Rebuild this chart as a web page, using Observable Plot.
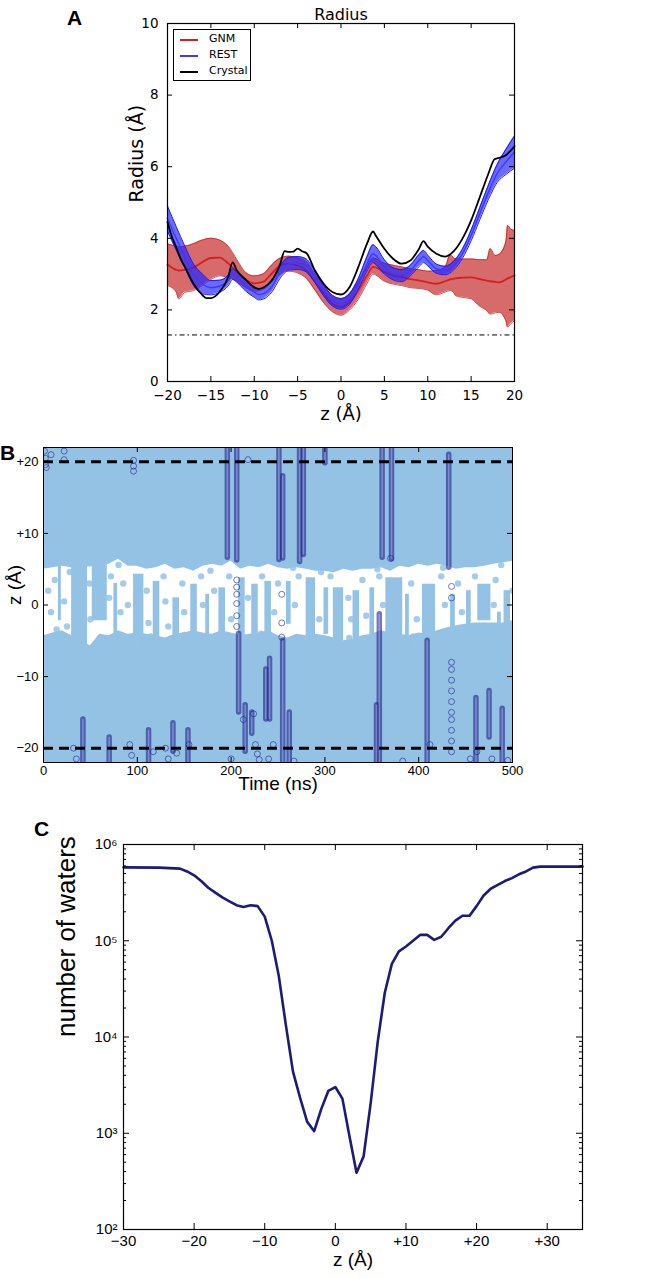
<!DOCTYPE html>
<html><head><meta charset="utf-8">
<script src="https://cdn.jsdelivr.net/npm/d3@7"></script>
<script src="https://cdn.jsdelivr.net/npm/@observablehq/plot@0.6"></script>
<style>
body{margin:0;background:#fff;}
#fig{position:relative;width:660px;height:1278px;overflow:hidden;background:#fff;}
.panel{position:absolute;left:0;}
.lab{position:absolute;font-weight:bold;font-size:21px;font-family:"Liberation Sans",Arial,sans-serif;line-height:1;}
#legA{position:absolute;left:173px;top:29px;width:76px;height:50px;border:1.3px solid #000;background:#fff;font:11px "DejaVu Sans",sans-serif;}
#legA .row{position:absolute;left:6px;height:14px;line-height:14px;}
#legA .sw{position:absolute;left:0;top:7px;width:18px;height:0;border-top:2px solid #000;}
#legA .tx{position:absolute;left:29px;top:0;white-space:nowrap;}
</style></head><body>
<div id="fig">
 <div id="pa" class="panel" style="top:0"></div>
 <div id="pb" class="panel" style="top:430px"></div>
 <div id="pc" class="panel" style="top:800px"></div>
 <div id="legA"></div>
 <div class="lab" style="left:67px;top:7px">A</div>
 <div class="lab" style="left:0px;top:442px">B</div>
 <div class="lab" style="left:34px;top:818px">C</div>
</div>
<script>
// ---------- Panel A: pore radius ----------
const zCrystal = [-20,-19.5,-19,-18.5,-18,-17,-16,-15.5,-15,-14,-13,-12.5,-12,-11,-10,-9.5,-9,-8,-7,-6.5,-6,-5.5,-5,-4.5,-4,-3,-2,-1,0,1,2,3,3.7,4,5,6,7,8,9,9.5,10,11,12,13,14,15,16,17,17.7,18,19,20];
const rCrystal = [4.45,4.05,3.75,3.43,3.2,2.73,2.42,2.33,2.33,2.5,2.92,3.33,3.1,2.85,2.63,2.59,2.62,2.82,3.29,3.64,3.62,3.63,3.71,3.64,3.59,3.10,2.73,2.50,2.43,2.64,3.2,3.85,4.19,4.08,3.71,3.43,3.29,3.38,3.71,3.92,3.77,3.57,3.49,3.64,3.99,4.5,5.15,5.81,6.21,6.23,6.32,6.57];

const zRest = [-20,-19,-18,-17,-16,-15,-14,-13,-12.5,-12,-11,-10,-9.5,-9,-8,-7,-6,-5,-4,-3,-2,-1,0,1,2,3,3.7,4,5,6,7,8,9,9.5,10,11,12,13,14,15,16,17,18,19,20];
const restMean = [4.55,4.0,3.48,2.98,2.73,2.62,2.66,2.82,3.0,2.92,2.68,2.5,2.43,2.45,2.64,3.06,3.29,3.31,3.24,2.92,2.54,2.26,2.17,2.31,2.73,3.29,3.57,3.52,3.2,3.01,2.96,3.1,3.38,3.49,3.38,3.15,3.1,3.24,3.57,4.08,4.69,5.29,5.81,6.13,6.41];
const restHi = [4.90,4.33,3.78,3.28,3.01,2.82,2.83,2.97,3.15,3.07,2.83,2.65,2.58,2.60,2.79,3.23,3.47,3.49,3.42,3.08,2.69,2.41,2.32,2.46,2.88,3.49,3.82,3.77,3.40,3.18,3.13,3.25,3.55,3.66,3.53,3.28,3.22,3.36,3.70,4.23,4.86,5.49,6.06,6.48,6.86];
const restLo = [4.20,3.67,3.18,2.68,2.45,2.42,2.49,2.67,2.85,2.77,2.53,2.35,2.28,2.30,2.49,2.89,3.11,3.13,3.06,2.76,2.39,2.11,2.02,2.16,2.58,3.09,3.32,3.27,3.00,2.84,2.79,2.95,3.21,3.32,3.23,3.02,2.98,3.12,3.44,3.93,4.52,5.09,5.56,5.78,5.96];

const zGnm = [-20,-19,-18.7,-18,-17,-16,-15,-14,-13,-12,-11,-10,-9,-8,-7,-6,-5,-4,-3,-2,-1,0,1,2,3,3.7,5,6,7,8,9,10,11,12,12.6,13,13.2,14,15,16,16.8,17.2,17.8,18.2,19,19.2,19.6,20];
const gnmMean = [3.27,3.12,3.1,3.12,3.18,3.33,3.45,3.46,3.3,3.06,2.84,2.74,2.78,3.01,3.24,3.29,3.24,3.1,2.78,2.45,2.17,2.08,2.22,2.54,2.96,3.2,3.06,2.96,2.92,2.86,2.82,2.77,2.73,2.8,2.85,2.87,2.88,2.9,2.91,2.86,2.82,2.8,2.78,2.77,2.85,2.88,2.92,2.97];
const gnmHi = [3.84,3.78,3.76,3.78,3.85,3.95,4.0,3.95,3.78,3.4,3.05,2.95,3.0,3.25,3.45,3.5,3.45,3.35,3.0,2.7,2.4,2.3,2.45,2.8,3.2,3.45,3.3,3.25,3.2,3.15,3.12,3.08,3.1,3.2,3.55,3.45,3.43,3.42,3.42,3.4,3.4,3.71,3.52,3.55,3.9,4.36,4.25,4.22];
const gnmLo = [2.68,2.5,2.31,2.49,2.54,2.68,2.85,2.95,2.9,2.8,2.62,2.52,2.57,2.78,3.0,3.08,3.03,2.88,2.55,2.2,1.95,1.85,2.0,2.3,2.74,3.0,2.8,2.72,2.68,2.62,2.6,2.55,2.42,2.5,2.54,2.48,2.40,2.35,2.31,2.1,1.98,1.88,1.92,1.93,1.7,1.52,1.62,1.70];

const radiusXTicks = [-20,-15,-10,-5,0,5,10,15,20];
const radiusYTicks = [0,2,4,6,8,10];
const ionRadiusLine = [1.3];
const legendNames = ["GNM","REST","Crystal"];
const legendColors = ["#d42020","#3a3aff","#000000"];

// ---------- Panel B: water / ion z vs time ----------
const gapTime = [0,10,20,30,40,50,60,70,80,90,100,110,120,130,140,150,160,170,180,190,200,210,220,230,240,250,260,270,280,290,300,310,320,330,340,350,360,370,380,390,400,410,420,430,440,450,460,470,480,490,500];
const gapTop = [5.0,5.2,5.4,5.2,5.4,5.3,5.4,5.7,6.4,5.4,5.4,5.0,5.2,5.7,5.0,5.2,4.7,5.4,5.7,5.4,6.1,5.0,5.4,5.2,5.7,5.2,5.0,5.2,5.0,4.7,4.7,4.5,5.0,4.7,5.0,5.0,5.2,4.7,5.4,5.2,5.7,5.4,5.7,5.4,5.0,5.2,5.2,5.4,5.7,5.9,6.1];
const gapBottom = [-4.3,-3.9,-3.6,-4.3,-5.0,-5.7,-4.1,-4.3,-3.6,-4.1,-3.9,-4.1,-4.3,-4.6,-4.1,-3.9,-3.6,-3.9,-4.1,-3.6,-3.9,-4.3,-4.1,-3.9,-3.6,-4.3,-4.6,-4.1,-4.3,-4.1,-4.3,-4.6,-5.0,-4.8,-4.3,-4.1,-3.6,-3.9,-4.1,-4.3,-3.9,-4.1,-3.6,-3.2,-2.9,-2.7,-2.5,-2.5,-2.5,-2.5,-2.2];
// water columns crossing the gap: [t start, t end, z low, z high]
const gapCols = [[16,19,-2.2,8],[30,47,-7,8],[52,68,-2.2,8],[75,79,-7,3],[96,107,-7,4.3],[117,124,-7,3.3],[138,145,-7,1.0],[157,164,-7,2.9],[173,177,-7,1.5],[187,194,-7,2.4],[208,215,-7,3.8],[222,229,-7,2.9],[236,243,-7,3.3],[259,264,-2.7,3.3],[280,290,-7,3.8],[299,304,-4.1,2.4],[309,320,-7,2.4],[330,337,-7,2.0],[348,353,-7,2.4],[365,383,-7,3.8],[386,390,-7,1.5],[404,418,-7,2.9],[434,439,-7,1.5],[451,456,-7,2.0],[463,477,-2.2,2.9],[484,488,-7,-1],[491,498,-7,2.0]];
// isolated waters inside the gap: [t, z]
const gapDots = [[5,2],[8,-1],[12,3.5],[22,0.5],[25,-3],[49,3],[50,-2],[70,1],[72,4],[82,-1],[85,3],[90,0],[110,2],[112,-2.5],[128,4],[130,0.5],[133,-3],[148,3],[150,-1],[168,4],[170,0],[182,2],[198,4],[200,-2],[218,1],[233,4],[246,-1],[250,3],[268,0],[272,4],[294,-2],[306,4],[325,1],[328,-2],[340,3.5],[344,-1.5],[358,4],[362,0],[392,3],[398,-2],[424,4],[428,0],[442,3],[446,-1],[460,4],[480,0],[482,3.5],[500,2],[14,-3.4],[28,4.6],[60,-4.6],[80,5.6],[114,-4.4],[150,-4.2],[178,4.8],[204,-4.4],[232,-4.0],[266,5.2],[296,4.6],[326,-4.6],[356,5.0],[394,-4.4],[426,5.2],[470,-2.9],[488,5.6]];
// dense ion tracks: [t, z low, z high]
const ionTracks = [[196,6.6,22],[206,6.2,22],[251,6.3,22],[255,6.5,18],[273,6,22],[277,7,22],[300,19.8,22],[361,6.6,22],[371,6.4,22],[432,5.2,21],[208,-15,-4],[215,-20.5,-14],[222,-18,-15],[237,-16,-9],[241,-16,-7.5],[255,-22,-5],[262,-22,-15],[358,-22,-1.3],[355,-22,-14],[409,-22,-5],[42,-22,-16],[70,-22,-18.5],[112,-22,-17.5],[138,-20.5,-16.5],[154,-22,-17.5],[461,-22,-13],[475,-18.5,-12],[489,-22,-14.5]];
// single ion positions: [t, z]
const ionDots = [[1,21.5],[2,20.5],[2,19.6],[3,19.2],[8,21.0],[22,20.3],[22,21.5],[96,18.7],[96,19.4],[96,20.2],[218,20.3],[435,1.0],[435,2.6],[206,-3],[206,-1.5],[206,0.2],[206,1.5],[206,2.5],[206,3.5],[254,1.5],[254,-2.5],[254,-4.5],[435,-8],[435,-9],[435,-10.5],[435,-12],[435,-13.5],[435,-15],[435,-16],[435,-17.5],[435,-19],[435,-20.5],[32,-20],[35,-21.5],[92,-19.5],[94,-21],[130,-20],[133,-21.5],[117,-20.5],[142,-20.7],[200,-21.5],[226,-19.5],[228,-20.8],[230,-21.6],[240,-21.5],[267,-21.8],[383,-21.8],[455,-21.5],[478,-21.5],[495,-21.7],[245,-19.5],[213,-16],[224,-15.2],[155,-19.5],[412,-19.5],[462,-20.5],[370,6.5]];
const boundaryZ = [-20, 20];
const timeTicks = [0,100,200,300,400,500];
const zTicksB = [-20,-10,0,10,20];

// ---------- Panel C: number of waters ----------
const zWater = [-30,-25,-22,-21,-20,-19,-18,-17,-16,-15,-14,-13,-12,-11,-10,-9,-8,-7,-6,-5,-4,-3,-2,-1,0,1,2,3,4,5,6,7,8,9,10,11,12,13,14,15,16,17,18,19,20,21,22,23,24,25,26,27,28,29,35];
const nWater = [579000,575000,562000,525000,479000,417000,355000,316000,282000,257000,234000,224000,234000,229000,178000,100000,42700,13200,4370,2340,1320,1050,1780,2750,3020,2290,933,389,575,2040,8910,28800,57500,77600,87100,100000,115000,115000,102000,110000,135000,162000,182000,182000,229000,295000,347000,380000,417000,447000,490000,525000,575000,589000,589000];
const zTicksC = [-30,-20,-10,0,10,20,30];
const waterTicks = [1e2,1e3,1e4,1e5,1e6];
const supers = {"2":"²","3":"³","4":"⁴","5":"⁵","6":"⁶"};

// ---------- helpers ----------
const signed = d => d > 0 ? "+" + d : d < 0 ? "\u2212" + (-d) : "0";
// inward ticks drawn as tick marks inset to a short length from each side of the frame
function inwardTicks(xt, yt, len, w, h) {
  const s = {stroke: "#000", strokeWidth: 1};
  return [
    Plot.tickX(xt, {x: d => d, insetTop: h - len, ...s}),
    Plot.tickX(xt, {x: d => d, insetBottom: h - len, ...s}),
    Plot.tickY(yt, {y: d => d, insetRight: w - len, ...s}),
    Plot.tickY(yt, {y: d => d, insetLeft: w - len, ...s})
  ];
}
function labels(xt, yt, xFmt, yFmt, opt) {
  return [
    Plot.axisX({ticks: xt, anchor: "bottom", tickSize: 0, tickPadding: opt.xpad, tickFormat: xFmt, label: null, fontSize: opt.fs}),
    Plot.axisY({ticks: yt, anchor: "left", tickSize: 0, tickPadding: opt.ypad, tickFormat: yFmt, label: null, fontSize: opt.fs})
  ];
}

// ---------- build A ----------
const crystal = zCrystal.map((z, i) => ({z, r: rCrystal[i]}));
const rest = zRest.map((z, i) => ({z, m: restMean[i], lo: restLo[i], hi: restHi[i]}));
const gnm = zGnm.map((z, i) => ({z, m: gnmMean[i], lo: gnmLo[i], hi: gnmHi[i]}));
const cv = "monotone-x";
const A = Plot.plot({
  width: 660, height: 425,
  marginTop: 23, marginLeft: 167, marginRight: 146, marginBottom: 44,
  style: {fontFamily: "'DejaVu Sans', sans-serif", fontSize: "14px", background: "transparent", overflow: "visible"},
  x: {domain: [-20, 20]}, y: {domain: [0, 10]},
  marks: [
    Plot.areaY(gnm, {x: "z", y1: "lo", y2: "hi", fill: "#c83030", fillOpacity: 0.72, curve: cv}),
    Plot.line(gnm, {x: "z", y: "lo", stroke: "#c02828", strokeWidth: 0.8, curve: cv}),
    Plot.line(gnm, {x: "z", y: "hi", stroke: "#c02828", strokeWidth: 0.8, curve: cv}),
    Plot.line(gnm, {x: "z", y: "m", stroke: legendColors[0], strokeWidth: 1.8, curve: cv}),
    Plot.areaY(rest, {x: "z", y1: "lo", y2: "hi", fill: "#2424ff", fillOpacity: 0.68, curve: cv}),
    Plot.line(rest, {x: "z", y: "lo", stroke: "#1a1aff", strokeWidth: 1, curve: cv}),
    Plot.line(rest, {x: "z", y: "hi", stroke: "#1a1aff", strokeWidth: 1, curve: cv}),
    Plot.line(rest, {x: "z", y: "m", stroke: legendColors[1], strokeWidth: 1.4, curve: cv}),
    Plot.line(crystal, {x: "z", y: "r", stroke: legendColors[2], strokeWidth: 1.8, curve: cv}),
    Plot.ruleY(ionRadiusLine, {stroke: "#000", strokeWidth: 1, strokeDasharray: "5,3,1.5,3"}),
    Plot.frame({stroke: "#000", strokeWidth: 1.2}),
    ...inwardTicks(radiusXTicks, radiusYTicks, 5, 347, 358),
    ...labels(radiusXTicks, radiusYTicks, undefined, undefined, {xpad: 9, ypad: 9, fs: 13.5}),
    Plot.text(["Radius"], {text: d => d, frameAnchor: "top", dy: -4, lineAnchor: "bottom", fontSize: 16}),
    Plot.text(["z (Å)"], {text: d => d, frameAnchor: "bottom", dy: 38, fontSize: 18}),
    Plot.text(["Radius (Å)"], {text: d => d, frameAnchor: "left", dx: -31, rotate: -90, fontSize: 19})
  ]
});
document.getElementById("pa").append(A);

const leg = document.getElementById("legA");
legendNames.forEach((n, i) => {
  const row = document.createElement("div");
  row.className = "row"; row.style.top = (2 + i * 16) + "px";
  row.innerHTML = `<span class="sw" style="border-color:${legendColors[i]}"></span><span class="tx">${n}</span>`;
  leg.append(row);
});

// ---------- build B ----------
const bg = "#94c2e5", navy = "#22228c";
const gapData = gapTime.map((t, i) => ({t, top: gapTop[i], bottom: gapBottom[i]}));
const cols = gapCols.map(([t1, t2, z1, z2]) => ({t1, t2, z1, z2}));
const gd = gapDots.map(([t, z]) => ({t, z}));
const tracks = ionTracks.map(([t, z1, z2]) => ({t, z1, z2}));
const idots = ionDots.map(([t, z]) => ({t, z}));
const B = Plot.plot({
  width: 660, height: 370,
  marginTop: 17, marginLeft: 43, marginRight: 148, marginBottom: 38,
  style: {fontFamily: "'Liberation Sans', Arial, sans-serif", fontSize: "13px", background: "transparent", overflow: "visible"},
  x: {domain: [0, 500]}, y: {domain: [-22, 22]},
  marks: [
    Plot.frame({fill: bg}),
    Plot.areaY(gapData, {x: "t", y1: "bottom", y2: "top", fill: "#fff"}),
    Plot.rect(cols, {x1: "t1", x2: "t2", y1: "z1", y2: "z2", fill: bg, clip: true}),
    Plot.dot(gd, {x: "t", y: "z", r: 3.2, fill: bg, fillOpacity: 0.85, clip: true}),
    Plot.ruleX(tracks, {x: "t", y1: "z1", y2: "z2", stroke: navy, strokeWidth: 5.5, strokeOpacity: 0.62, strokeLinecap: "round", clip: true}),
    Plot.ruleX(tracks, {x: "t", y1: "z1", y2: "z2", stroke: "#b4c8ee", strokeWidth: 1.5, strokeOpacity: 0.45, clip: true}),
    Plot.dot(idots, {x: "t", y: "z", r: 3, stroke: navy, strokeOpacity: 0.6, strokeWidth: 1, fill: "none", clip: true}),
    Plot.ruleY(boundaryZ, {stroke: "#000", strokeWidth: 3, strokeDasharray: "10,6"}),
    Plot.frame({stroke: "#000", strokeWidth: 1}),
    ...inwardTicks(timeTicks, zTicksB, 5, 469, 315),
    ...labels(timeTicks, zTicksB, undefined, signed, {xpad: 3, ypad: 5, fs: 13}),
    Plot.text(["Time (ns)"], {text: d => d, frameAnchor: "bottom", dy: 27, fontSize: 19}),
    Plot.text(["z (Å)"], {text: d => d, frameAnchor: "left", dx: -29, rotate: -90, fontSize: 19})
  ]
});
document.getElementById("pb").append(B);

// ---------- build C ----------
const water = zWater.map((z, i) => ({z, n: nWater[i]}));
const minorTicks = [2,3,4,5,6,7,8,9].flatMap(m => [1e2,1e3,1e4,1e5].map(p => m * p));
const C = Plot.plot({
  width: 660, height: 478,
  marginTop: 44, marginLeft: 123, marginRight: 78, marginBottom: 49,
  style: {fontFamily: "'Liberation Sans', Arial, sans-serif", fontSize: "15px", background: "transparent", overflow: "visible"},
  x: {domain: [-30, 35]}, y: {type: "log", domain: [1e2, 1e6]},
  marks: [
    Plot.line(water, {x: "z", y: "n", stroke: "#1b1b78", strokeWidth: 2.6}),
    Plot.frame({stroke: "#000", strokeWidth: 1.2}),
    ...inwardTicks(zTicksC, waterTicks, 6, 459, 385),
    Plot.tickY(minorTicks, {y: d => d, insetRight: 459 - 3, stroke: "#000"}),
    Plot.tickY(minorTicks, {y: d => d, insetLeft: 459 - 3, stroke: "#000"}),
    ...labels(zTicksC, waterTicks, signed, d => "10" + supers[String(Math.round(Math.log10(d)))], {xpad: 6, ypad: 6, fs: 15}),
    Plot.text(["z (Å)"], {text: d => d, frameAnchor: "bottom", dy: 36, fontSize: 19}),
    Plot.text(["number of waters"], {text: d => d, frameAnchor: "left", dx: -57, rotate: -90, fontSize: 26})
  ]
});
document.getElementById("pc").append(C);
</script>
</body></html>
